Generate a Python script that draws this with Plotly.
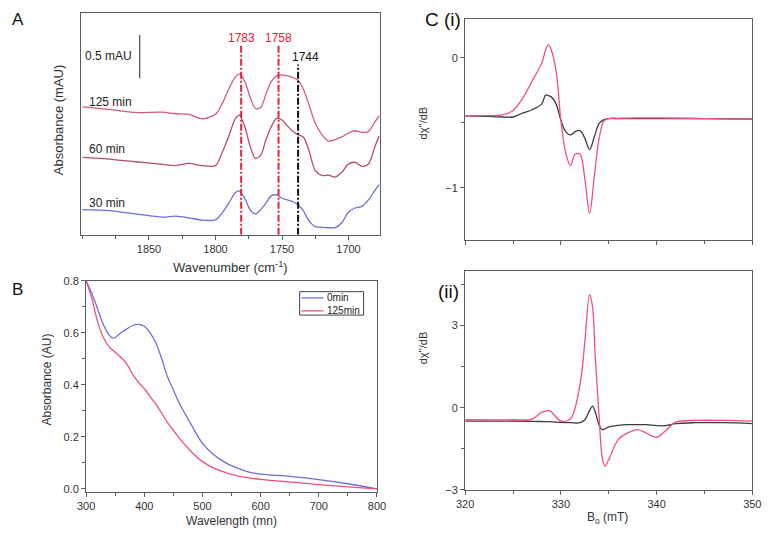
import plotly.graph_objects as go

# ---------------- Panel A: FTIR difference spectra ----------------
wn = [1900, 1880, 1860, 1840, 1830, 1820, 1810, 1800, 1795, 1790, 1785, 1782, 1778, 1774,
      1770, 1766, 1762, 1758, 1754, 1750, 1746, 1742, 1738, 1734, 1730, 1725, 1720, 1715,
      1710, 1705, 1700, 1695, 1690, 1685, 1680, 1677]
a_125 = [1.485, 1.455, 1.420, 1.424, 1.405, 1.398, 1.345, 1.398, 1.523, 1.693, 1.833, 1.864,
         1.780, 1.598, 1.466, 1.477, 1.636, 1.780, 1.845, 1.856, 1.845, 1.826, 1.795, 1.693,
         1.523, 1.295, 1.163, 1.087, 1.106, 1.136, 1.182, 1.208, 1.189, 1.201, 1.314, 1.379]
a_60 = [0.898, 0.879, 0.848, 0.818, 0.803, 0.830, 0.803, 0.803, 0.955, 1.144, 1.352, 1.390,
        1.258, 1.030, 0.886, 0.924, 1.106, 1.258, 1.352, 1.333, 1.265, 1.201, 1.163, 1.136,
        0.992, 0.746, 0.689, 0.693, 0.670, 0.727, 0.822, 0.841, 0.795, 0.822, 1.030, 1.144]
a_30 = [0.292, 0.280, 0.242, 0.205, 0.216, 0.197, 0.170, 0.174, 0.254, 0.367, 0.492, 0.508,
        0.424, 0.292, 0.242, 0.292, 0.367, 0.455, 0.462, 0.424, 0.405, 0.386, 0.348, 0.280,
        0.167, 0.095, 0.087, 0.083, 0.083, 0.140, 0.265, 0.311, 0.330, 0.405, 0.519, 0.583]
a_labels = ["125 min", "60 min", "30 min"]
a_label_y = [1.542, 0.992, 0.367]
# marker lines: axis position, label text, top of line, label height
mark_pos = [1780.7, 1752.6, 1737.9]
mark_text = ["1783", "1758", "1744"]
mark_top = [2.205, 2.205, 1.977]
mark_label_y = [2.288, 2.288, 2.064]
mark_label_x = [1780.7, 1752.6, 1732.0]
scale_bar = [1.818, 2.318]  # 0.5 mAU

# ---------------- Panel B: UV-vis ----------------
wl = [300, 310, 320, 330, 340, 345, 350, 360, 370, 380, 390, 400, 410, 420, 430, 440, 450,
      460, 480, 500, 520, 540, 560, 580, 600, 650, 700, 750, 800]
b_0 = [0.80, 0.75, 0.69, 0.63, 0.59, 0.58, 0.582, 0.60, 0.615, 0.628, 0.632, 0.625, 0.60,
       0.56, 0.50, 0.43, 0.38, 0.33, 0.25, 0.175, 0.13, 0.10, 0.08, 0.065, 0.057, 0.048,
       0.036, 0.02, 0.0]
b_125 = [0.80, 0.73, 0.64, 0.58, 0.545, 0.535, 0.525, 0.505, 0.48, 0.44, 0.41, 0.385, 0.355,
         0.325, 0.29, 0.255, 0.225, 0.195, 0.145, 0.105, 0.08, 0.063, 0.05, 0.043, 0.037,
         0.027, 0.017, 0.008, 0.0]
b_names = ["0min", "125min"]

# ---------------- Panel C(i): EPR ----------------
bi = [320, 322, 324, 325, 326, 327, 328, 328.4, 328.7, 329, 329.5, 330, 330.5, 331, 331.5,
      332, 332.5, 333, 333.5, 334, 334.5, 335, 336, 338, 340, 345, 350]
ci_pink = [-0.447, -0.445, -0.437, -0.405, -0.312, -0.178, -0.040, 0.060, 0.100, 0.060,
           -0.100, -0.480, -0.730, -0.830, -0.740, -0.744, -0.930, -1.196, -0.907, -0.618,
           -0.485, -0.467, -0.465, -0.462, -0.462, -0.467, -0.472]
ci_black = [-0.447, -0.450, -0.455, -0.455, -0.425, -0.399, -0.354, -0.286, -0.291, -0.300,
            -0.354, -0.480, -0.568, -0.593, -0.568, -0.560, -0.618, -0.706, -0.606, -0.505,
            -0.475, -0.467, -0.467, -0.467, -0.467, -0.467, -0.472]

# ---------------- Panel C(ii): EPR ----------------
bii = [320, 325, 327, 328, 328.8, 330, 331, 332, 332.5, 333, 333.3, 333.6, 334, 334.3,
       334.6, 335, 336, 337, 338, 339, 340, 341, 342, 344, 347, 350]
cii_pink = [-0.44, -0.44, -0.417, -0.167, -0.11, -0.488, -0.405, 0.845, 2.393, 4.119, 3.70,
            1.80, -0.345, -1.774, -2.131, -1.893, -1.155, -0.917, -0.798, -0.940, -1.083,
            -0.821, -0.524, -0.464, -0.464, -0.488]
cii_black = [-0.488, -0.488, -0.50, -0.505, -0.512, -0.536, -0.548, -0.548, -0.44, -0.107,
             0.06, -0.167, -0.643, -0.798, -0.774, -0.702, -0.643, -0.619, -0.619, -0.619,
             -0.655, -0.655, -0.583, -0.548, -0.548, -0.583]

FONT = "Arial, Liberation Sans, sans-serif"
AX = "#55605f"
TXT = "#333333"
PINK = "#f04f7d"
BLUE = "#6b6fdc"
RED = "#e8203a"

fig = go.Figure()

# Panel A traces
for y, c in zip([a_125, a_60, a_30], ["#d65a7c", "#b04c72", "#6d6fd6"]):
    fig.add_trace(go.Scatter(x=wn, y=y, mode="lines",
                             line=dict(color=c, width=1.3, shape="spline", smoothing=0.8),
                             xaxis="x", yaxis="y", showlegend=False))
for xp, top, kind in zip(mark_pos, mark_top, [RED, RED, "#111111"]):
    fig.add_trace(go.Scatter(x=[xp, xp], y=[0, top], mode="lines",
                             line=dict(color=kind, width=2, dash="7px,2px,2px,2px"),
                             xaxis="x", yaxis="y", showlegend=False))
fig.add_trace(go.Scatter(x=[1857, 1857], y=scale_bar, mode="lines", line=dict(color="#555", width=1.3),
                         xaxis="x", yaxis="y", showlegend=False))

# Panel B traces
for y, c, n in zip([b_0, b_125], [BLUE, PINK], b_names):
    fig.add_trace(go.Scatter(x=wl, y=y, mode="lines", name=n, line=dict(color=c, width=1.3, shape="spline"),
                             xaxis="x2", yaxis="y2", showlegend=False))

# Panel C traces
fig.add_trace(go.Scatter(x=bi, y=ci_black, mode="lines", line=dict(color="#3c3c3c", width=1.3, shape="spline"),
                         xaxis="x3", yaxis="y3", showlegend=False))
fig.add_trace(go.Scatter(x=bi, y=ci_pink, mode="lines", line=dict(color=PINK, width=1.3, shape="spline"),
                         xaxis="x3", yaxis="y3", showlegend=False))
fig.add_trace(go.Scatter(x=bii, y=cii_black, mode="lines", line=dict(color="#3c3c3c", width=1.3, shape="spline"),
                         xaxis="x4", yaxis="y4", showlegend=False))
fig.add_trace(go.Scatter(x=bii, y=cii_pink, mode="lines", line=dict(color=PINK, width=1.3, shape="spline"),
                         xaxis="x4", yaxis="y4", showlegend=False))

def ax(**kw):
    d = dict(showline=True, mirror=True, linecolor=AX, linewidth=1.3, showgrid=False, zeroline=False,
             ticks="outside", ticklen=4, tickcolor=AX, tickwidth=1.2,
             tickfont=dict(family=FONT, size=11, color=TXT))
    d.update(kw)
    return d

fig.update_layout(
    width=775, height=536, margin=dict(l=0, r=0, t=0, b=0),
    paper_bgcolor="white", plot_bgcolor="white", showlegend=False,
    xaxis=ax(domain=[0.0955, 0.4903], anchor="y", range=[1900.9, 1676.2],
             tickvals=[1850, 1800, 1750, 1700],
             minor=dict(dtick=25, tick0=1700, ticks="outside", ticklen=3, tickcolor=AX)),
    yaxis=ax(domain=[0.5634, 0.9875], anchor="x", range=[0, 2.58], ticks="", showticklabels=False),
    xaxis2=ax(domain=[0.1019, 0.4861], anchor="y2", range=[300, 800], dtick=100,
              minor=dict(dtick=50, ticks="outside", ticklen=3, tickcolor=AX)),
    yaxis2=ax(domain=[0.0733, 0.4757], anchor="x2", range=[-0.0101, 0.8], tickvals=[0, 0.2, 0.4, 0.6, 0.8],
              ticktext=["0.0", "0.2", "0.4", "0.6", "0.8"],
              minor=dict(dtick=0.1, ticks="outside", ticklen=3, tickcolor=AX)),
    xaxis3=ax(domain=[0.6026, 0.9819], anchor="y3", range=[320, 350], dtick=10, showticklabels=False,
              minor=dict(dtick=5, ticks="outside", ticklen=3, tickcolor=AX)),
    yaxis3=ax(domain=[0.5541, 0.9752], anchor="x3", range=[-1.4, 0.3], tickvals=[-1, 0],
              minor=dict(dtick=0.5, ticks="outside", ticklen=3, tickcolor=AX)),
    xaxis4=ax(domain=[0.6026, 0.9819], anchor="y4", range=[320, 350], dtick=10,
              minor=dict(dtick=5, ticks="outside", ticklen=3, tickcolor=AX)),
    yaxis4=ax(domain=[0.0765, 0.4950], anchor="x4", range=[-3, 5], tickvals=[-3, 0, 3],
              minor=dict(dtick=1.5, tick0=0, ticks="outside", ticklen=3, tickcolor=AX)),
)

ann = []
def pa(text, x, y, size=13, angle=0, color=TXT, xanchor="center"):
    ann.append(dict(text=text, x=x / 775, y=1 - y / 536, xref="paper", yref="paper", showarrow=False,
                    textangle=angle, xanchor=xanchor, yanchor="middle",
                    font=dict(family=FONT, size=size, color=color)))

# panel letters
pa("A", 9, 14, size=17, color="#111")
pa("B", 9, 290, size=17, color="#111")
pa("C (i)", 444, 14, size=19, color="#111")
pa("(ii)", 450, 292, size=19, color="#111")
# axis titles
pa("Absorbance (mAU)", 51, 116, size=13, angle=-90)
pa("Wavenumber (cm<sup>-1</sup>)", 227, 267, size=13)
pa("Absorbance (AU)", 39, 382, size=12, angle=-90)
pa("Wavelength (mn)", 228, 527, size=12)
pa("dχ''/dB", 424, 120, size=11, angle=-90)
pa("dχ''/dB", 424, 350, size=11, angle=-90)
pa("B<sub>o</sub> (mT)", 613, 524, size=12)

# data-anchored labels in panel A
for t, yv in zip(a_labels, a_label_y):
    ann.append(dict(text=t, x=1896.5, y=yv, xref="x", yref="y", showarrow=False, xanchor="left",
                    font=dict(family=FONT, size=12, color="#222")))
for t, xv, yv, c in zip(mark_text, mark_label_x, mark_label_y, [RED, RED, "#111"]):
    ann.append(dict(text=t, x=xv, y=yv, xref="x", yref="y", showarrow=False,
                    font=dict(family=FONT, size=12, color=c)))
ann.append(dict(text="0.5 mAU", x=1861, y=2.072, xref="x", yref="y", showarrow=False, xanchor="right",
                font=dict(family=FONT, size=12, color="#222")))

# manual legend for panel B
shapes = [dict(type="rect", xref="x2", yref="y2", x0=667, x1=777, y0=0.668, y1=0.758,
               line=dict(color="#444", width=1), fillcolor="white")]
for yv, c, n in zip([0.734, 0.684], [BLUE, PINK], b_names):
    shapes.append(dict(type="line", xref="x2", yref="y2", x0=670, x1=708, y0=yv, y1=yv,
                       line=dict(color=c, width=1.3)))
    ann.append(dict(text=n, x=711, y=yv, xref="x2", yref="y2", showarrow=False, xanchor="left",
                    font=dict(family=FONT, size=10, color="#222")))

fig.update_layout(annotations=ann, shapes=shapes)
fig.write_html("out.html")
